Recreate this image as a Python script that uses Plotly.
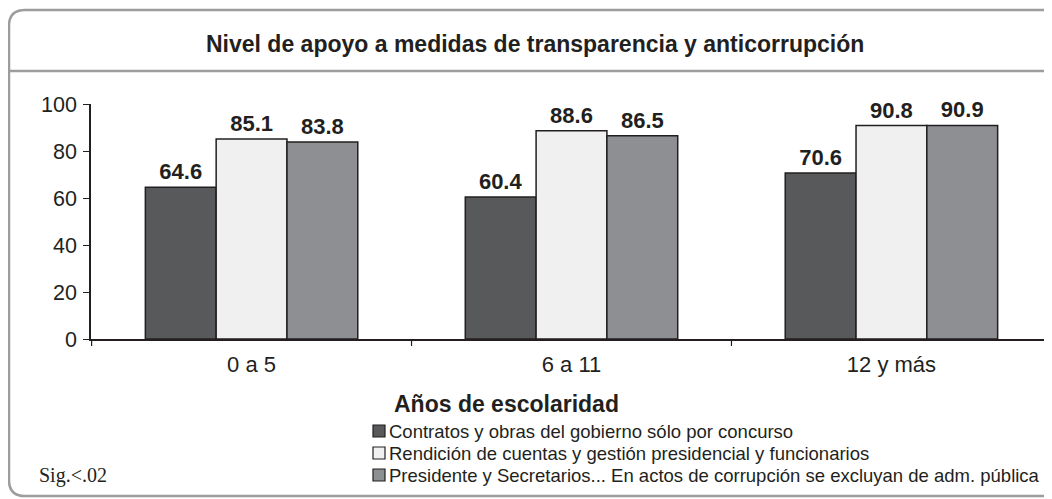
import plotly.graph_objects as go

categories = ["0 a 5", "6 a 11", "12 y más"]
series_names = [
    "Contratos y obras del gobierno sólo por concurso",
    "Rendición de cuentas y gestión presidencial y funcionarios",
    "Presidente y Secretarios... En actos de corrupción se excluyan de adm. pública",
]
contratos = [64.6, 60.4, 70.6]
rendicion = [85.1, 88.6, 90.8]
presidente = [83.8, 86.5, 90.9]
y_ticks = [0, 20, 40, 60, 80, 100]

colors = ["#58595b", "#f0f0f0", "#8e8f93"]
OFF = 8  # page body margin
W, H = 1052 - OFF, 499 - OFF
# plot area in screen pixels
L, R, T, B = 91, 1052, 104, 339
INK = "#231f20"


def px_x(p):
    return (p - L) / (R - L)


def px_y(p):
    return (B - p) / (B - T)


fig = go.Figure()
for name, vals, col in zip(series_names, [contratos, rendicion, presidente], colors):
    fig.add_trace(go.Bar(
        x=categories, y=vals, name=name,
        marker=dict(color=col, line=dict(color=INK, width=1.5)),
        text=[f"{v:.1f}" for v in vals], textposition="outside",
        textfont=dict(family="Liberation Sans, Arial, sans-serif", size=22, color=INK),
        texttemplate="<b>%{text}</b>", cliponaxis=False,
    ))

border = "#9d9d9d"
r = 16
x0, y0, x1, y1 = 9, 10, 1070, 496
path = (f"M {px_x(x0)} {px_y(y0 + r)} Q {px_x(x0)} {px_y(y0)} {px_x(x0 + r)} {px_y(y0)} "
        f"L {px_x(x1)} {px_y(y0)} L {px_x(x1)} {px_y(y1)} L {px_x(x0 + r)} {px_y(y1)} "
        f"Q {px_x(x0)} {px_y(y1)} {px_x(x0)} {px_y(y1 - r)} Z")

shapes = [
    dict(type="path", xref="paper", yref="paper", path=path,
         line=dict(color=border, width=2.5), layer="below"),
    dict(type="line", xref="paper", yref="paper",
         x0=px_x(x0), x1=px_x(x1), y0=px_y(71), y1=px_y(71),
         line=dict(color=border, width=2.5)),
]
# category boundary ticks on x axis
for i in range(-1, len(categories)):
    shapes.append(dict(type="line", xref="x", yref="paper", x0=i + 0.5, x1=i + 0.5,
                       y0=0, y1=px_y(346), line=dict(color=INK, width=1.2)))

annotations = [
    dict(text="<b>Nivel de apoyo a medidas de transparencia y anticorrupción</b>",
         xref="paper", yref="paper", x=px_x(535), y=px_y(44),
         xanchor="center", yanchor="middle",
         showarrow=False, font=dict(size=23, color=INK)),
    dict(text="<b>Años de escolaridad</b>", xref="paper", yref="paper",
         x=px_x(506), y=px_y(404), xanchor="center", yanchor="middle",
         showarrow=False, font=dict(size=23, color=INK)),
    dict(text="Sig.<.02", xref="paper", yref="paper", x=px_x(37), y=px_y(475),
         xanchor="left", yanchor="middle", showarrow=False,
         font=dict(family="Liberation Serif, Times New Roman, serif", size=20, color=INK)),
]

# legend drawn as swatches + text rows
legend_rows = [431, 453, 475]
for name, col, ry in zip(series_names, colors, legend_rows):
    shapes.append(dict(type="rect", xref="paper", yref="paper",
                       x0=px_x(373), x1=px_x(385), y0=px_y(ry - 6), y1=px_y(ry + 6),
                       fillcolor=col, line=dict(color=INK, width=1.2)))
    annotations.append(dict(text=name, xref="paper", yref="paper",
                            x=px_x(387), y=px_y(ry), xanchor="left", yanchor="middle",
                            showarrow=False,
                            font=dict(family="Liberation Sans, Arial, sans-serif", size=18.5, color=INK)))

fig.update_layout(
    width=W, height=H,
    margin=dict(l=L - OFF, r=W - (R - OFF), t=T - OFF, b=H - (B - OFF)),
    paper_bgcolor="white", plot_bgcolor="white",
    barmode="group", bargap=0.336, bargroupgap=0,
    font=dict(family="Liberation Sans, Arial, sans-serif", color=INK),
    showlegend=False,
    xaxis=dict(
        showline=True, linecolor=INK, linewidth=1.5,
        ticks="", showgrid=False, ticklabelstandoff=5,
        tickfont=dict(size=22, color=INK),
    ),
    yaxis=dict(
        range=[0, 100], tickvals=y_ticks, showgrid=False, zeroline=False,
        showline=True, linecolor=INK, linewidth=1.5,
        ticks="outside", ticklen=6, tickcolor=INK, ticklabelstandoff=2,
        tickfont=dict(size=21.5, color=INK),
    ),
    shapes=shapes,
    annotations=annotations,
)

fig.write_html("out.html")
